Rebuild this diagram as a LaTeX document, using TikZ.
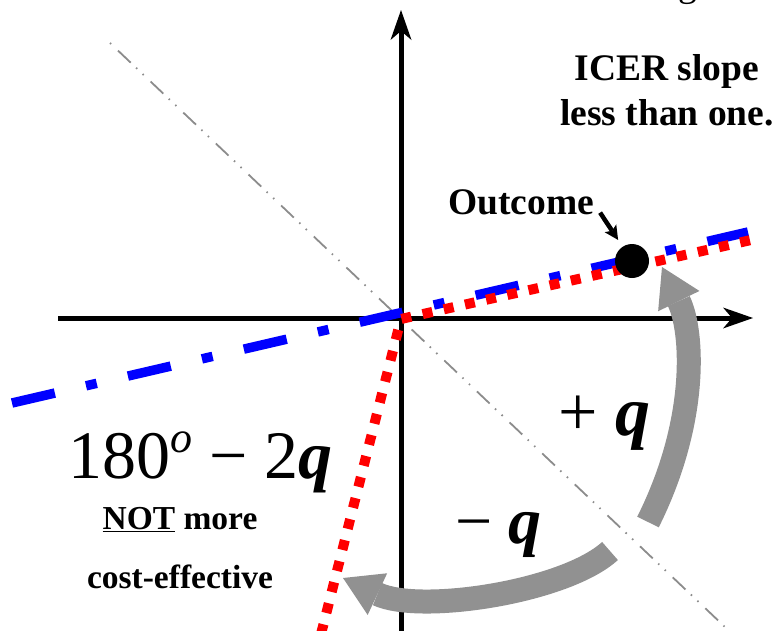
\documentclass[tikz,border=0pt]{standalone}
\usepackage{fontspec}
\setmainfont{Liberation Serif}
\usetikzlibrary{arrows.meta}
\definecolor{ablue}{RGB}{0,0,255}
\definecolor{ared}{RGB}{255,0,0}
\definecolor{agray}{RGB}{145,145,145}
\definecolor{dgray}{RGB}{140,140,140}
\tikzset{
  axisline/.style={line width=5pt, black, -{Stealth[length=30pt,width=21pt,inset=9pt,line width=0pt]}},
  diagline/.style={line width=1.8pt, dgray, dash pattern=on 1.5pt off 9.5pt on 17.5pt off 7.5pt on 1.5pt off 7.5pt},
  blueline/.style={line width=9.5pt, ablue, dash pattern=on 44pt off 32pt on 11pt off 32pt},
  redline/.style={line width=10pt, ared, dash pattern=on 10pt off 11.7pt},
  garrow/.style={line width=24pt, agray, -{Triangle[length=38pt,width=46pt,line width=0pt]}},
  outarrow/.style={line width=4.5pt, black, -{Stealth[length=14pt,width=14pt,inset=3pt,line width=0pt]}},
  lbl/.style={inner sep=0pt, font=\fontsize{37.5}{45}\selectfont\bfseries},
  lblsmall/.style={inner sep=0pt, font=\fontsize{33.5}{40}\selectfont\bfseries},
}
\begin{document}
\begin{tikzpicture}[x=1pt,y=-1pt]
\useasboundingbox (0,0) rectangle (777,630);
% coordinates
\coordinate (O) at (401,318);
\coordinate (xl) at (58,318);
\coordinate (xr) at (753,318);
\coordinate (yb) at (401,632);
\coordinate (yt) at (401,10);
\coordinate (d1) at (110,43);
\coordinate (d2) at (725,627);
\coordinate (b1) at (12,403);
\coordinate (b2) at (748,232);
\coordinate (r1) at (321,634);
\coordinate (r0) at (401,319);
\coordinate (r2) at (751,240);
\coordinate (t1) at (648,522);
\coordinate (h1) at (662,267);
\coordinate (t2) at (610,551);
\coordinate (h2) at (343,578);
% axes
\draw[axisline] (xl) -- (xr);
\draw[axisline] (yb) -- (yt);
% diagonal
\draw[diagline] (d1) -- (d2);
% ICER lines
\draw[blueline] (b1) -- (b2);
\draw[redline] (r1) -- (r0) -- (r2);
% outcome
\node[circle, fill=black, minimum size=34pt, inner sep=0pt] (dot) at (632,261) {};
\node[lbl, anchor=base] (outlab) at (521,214) {Outcome};
\coordinate (otail) at ([shift={(6,-2)}]outlab.south east);
\draw[outarrow, shorten >=8pt] (otail) -- (dot);
% curved arrows
\draw[garrow] (t1) .. controls (699,420) and (693,330) .. (h1);
\draw[garrow] (t2) .. controls (565,592) and (420,614) .. (h2);
% texts
\node[anchor=base west, inner sep=0pt, font=\fontsize{37.5}{45}\selectfont] (topg) at (678,-4) {g};
\node[lbl, anchor=base] (icer1) at (667,80) {ICER slope};
\node[lbl, anchor=base] (icer2) at (667,125) {less than one.};
\node[anchor=base west, inner sep=0pt] (angle) at (68,478) {\fontsize{68}{68}\selectfont 180\raisebox{26pt}{\fontsize{44}{44}\selectfont\itshape o} − 2\textbf{\textit{q}}};
\node[lblsmall, anchor=base] (notmore) at (180,529) {\underline{NOT} more};
\node[lblsmall, anchor=base] (costeff) at (180,588) {cost-effective};
\node[anchor=base west, inner sep=0pt] (plusq) at (558,435) {\fontsize{70}{70}\selectfont + \textbf{\textit{q}}};
\node[anchor=base west, inner sep=0pt] (minusq) at (455,543) {\fontsize{66}{66}\selectfont − \textbf{\textit{q}}};
\end{tikzpicture}
\end{document}
